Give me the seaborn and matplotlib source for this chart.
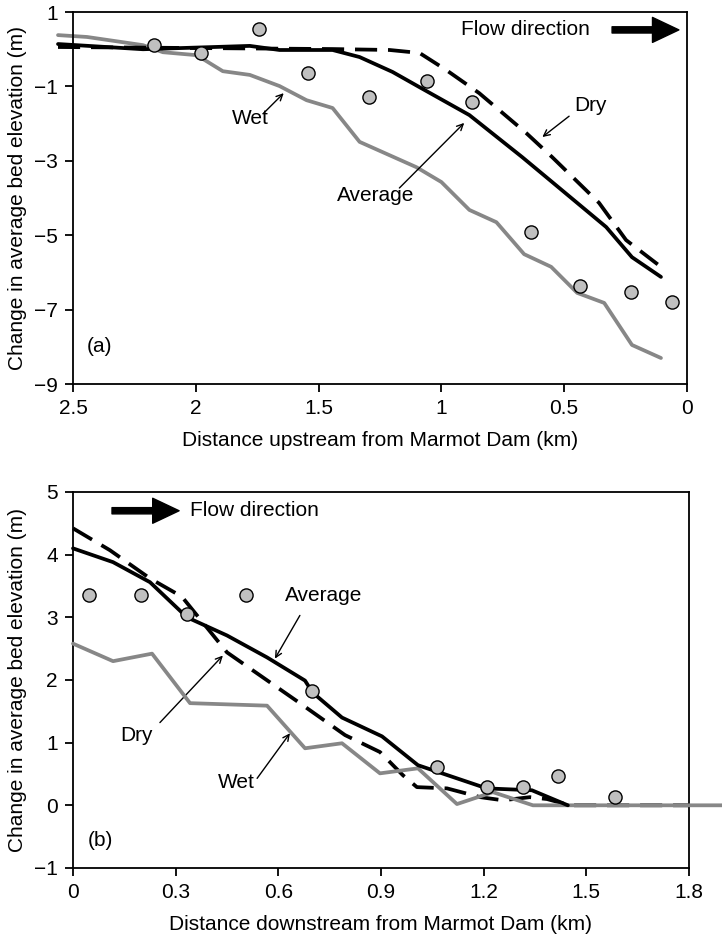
import numpy as np
import pandas as pd
import matplotlib
matplotlib.use("Agg")
import matplotlib.pyplot as plt
import seaborn as sns

# ---- panel (a): upstream of Marmot Dam ----
a_avg_km = [2.561, 2.215, 1.78, 1.659, 1.443, 1.333, 1.199, 1.089, 0.886, 0.671, 0.549, 0.329, 0.224, 0.106]
a_avg_m = [0.14, 0.0, 0.09, -0.02, -0.02, -0.21, -0.61, -1.02, -1.77, -2.90, -3.57, -4.78, -5.59, -6.12]

a_dry_km = [2.561, 1.443, 1.211, 1.089, 0.98, 0.846, 0.655, 0.549, 0.358, 0.248, 0.106]
a_dry_m = [0.06, 0.005, -0.02, -0.10, -0.56, -1.18, -2.25, -2.90, -4.13, -5.13, -5.85]

a_wet_km = [2.561, 2.443, 2.215, 2.134, 1.996, 1.89, 1.78, 1.659, 1.549, 1.443, 1.333, 1.102,
            1.0, 0.886, 0.776, 0.663, 0.553, 0.447, 0.337, 0.224, 0.106]
a_wet_m = [0.38, 0.33, 0.11, -0.08, -0.16, -0.59, -0.69, -0.99, -1.37, -1.58, -2.49, -3.17,
           -3.57, -4.32, -4.65, -5.51, -5.85, -6.55, -6.82, -7.95, -8.30]

a_obs_km = [2.171, 1.98, 1.744, 1.545, 1.293, 1.057, 0.874, 0.634, 0.435, 0.228, 0.061]
a_obs_m = [0.11, -0.10, 0.54, -0.64, -1.28, -0.85, -1.42, -4.91, -6.37, -6.53, -6.80]

# ---- panel (b): downstream of Marmot Dam ----
b_avg_km = [0.0, 0.117, 0.225, 0.333, 0.45, 0.567, 0.678, 0.70, 0.786, 0.903, 1.008, 1.122,
            1.209, 1.341, 1.446]
b_avg_m = [4.10, 3.88, 3.56, 3.00, 2.71, 2.36, 1.99, 1.80, 1.40, 1.10, 0.64, 0.43,
           0.27, 0.24, 0.0]

b_dry_km = [0.0, 0.108, 0.225, 0.318, 0.45, 0.663, 0.795, 0.897, 0.964, 1.005, 1.093, 1.19,
            1.256, 1.335, 1.385, 1.452, 1.8]
b_dry_m = [4.42, 4.07, 3.62, 3.33, 2.44, 1.63, 1.12, 0.85, 0.48, 0.29, 0.27, 0.13,
           0.08, 0.13, 0.10, 0.0, 0.0]

b_wet_km = [0.0, 0.117, 0.231, 0.342, 0.567, 0.678, 0.786, 0.897, 1.008, 1.122, 1.227, 1.344, 1.896]
b_wet_m = [2.58, 2.30, 2.42, 1.63, 1.59, 0.91, 0.99, 0.51, 0.59, 0.02, 0.21, 0.0, 0.0]

b_obs_km = [0.047, 0.199, 0.333, 0.505, 0.698, 1.063, 1.209, 1.315, 1.417, 1.583]
b_obs_m = [3.35, 3.35, 3.05, 3.35, 1.83, 0.61, 0.30, 0.30, 0.46, 0.14]

a_xticks = [2.5, 2, 1.5, 1, 0.5, 0]
a_xticklabels = ["2.5", "2", "1.5", "1", "0.5", "0"]
a_yticks = [1, -1, -3, -5, -7, -9]
b_xticks = [0, 0.3, 0.6, 0.9, 1.2, 1.5, 1.8]
b_xticklabels = ["0", "0.3", "0.6", "0.9", "1.2", "1.5", "1.8"]
b_yticks = [-1, 0, 1, 2, 3, 4, 5]

sns.set_style("ticks")
plt.rcParams["font.family"] = ["Liberation Sans", "DejaVu Sans"]
plt.rcParams["axes.unicode_minus"] = True
plt.rcParams["text.color"] = "black"
plt.rcParams["axes.labelcolor"] = "black"
plt.rcParams["xtick.color"] = "black"
plt.rcParams["ytick.color"] = "black"
plt.rcParams["axes.edgecolor"] = "black"

GRAY = "#878787"
DOT = "#c0c0c0"
LW = 2.7
FS = 15


def draw_panel(ax, avg, dry, wet, obs, wet_z):
    sns.lineplot(x=wet[0], y=wet[1], ax=ax, color=GRAY, lw=LW, estimator=None,
                 sort=False, clip_on=False, zorder=wet_z)
    sns.lineplot(x=dry[0], y=dry[1], ax=ax, color="black", lw=LW, estimator=None,
                 sort=False, clip_on=False, zorder=3, linestyle=(0, (5.9, 2.9)))
    sns.lineplot(x=avg[0], y=avg[1], ax=ax, color="black", lw=LW, estimator=None,
                 sort=False, clip_on=False, zorder=4)
    sns.scatterplot(x=obs[0], y=obs[1], ax=ax, s=90, color=DOT, edgecolor="black",
                    linewidth=1.0, zorder=5, clip_on=False)
    for sp in ax.spines.values():
        sp.set_linewidth(1.3)
        sp.set_visible(True)
    ax.tick_params(direction="out", length=6, width=1.3, labelsize=FS, pad=5)


def label_arrow(ax, text, pos, tail, head):
    ax.text(pos[0], pos[1], text, fontsize=FS, ha="center", va="center")
    ax.annotate("", xy=head, xytext=tail,
                arrowprops=dict(arrowstyle="->,head_length=0.45,head_width=0.22",
                                lw=1.0, color="black", shrinkA=0, shrinkB=0))


def flow_arrow(ax, tail, head):
    ax.annotate("", xy=head, xytext=tail,
                arrowprops=dict(arrowstyle="simple,head_length=1.9,head_width=1.8,tail_width=0.45",
                                mutation_scale=10, color="black", shrinkA=0, shrinkB=0))


fig = plt.figure(figsize=(7.22, 9.41), dpi=100)

# panel (a)
ax1 = fig.add_axes([0.1011, 0.5919, 0.8504, 0.3953])
draw_panel(ax1, (a_avg_km, a_avg_m), (a_dry_km, a_dry_m), (a_wet_km, a_wet_m),
           (a_obs_km, a_obs_m), wet_z=2)
ax1.set_xlim(2.5, 0)
ax1.set_ylim(-9, 1)
ax1.set_xticks(a_xticks)
ax1.set_xticklabels(a_xticklabels)
ax1.set_yticks(a_yticks)
ax1.set_xlabel("Distance upstream from Marmot Dam (km)", fontsize=FS, labelpad=9)
ax1.set_ylabel("Change in average bed elevation (m)", fontsize=FS, labelpad=5)
ax1.text(0.919, 0.52, "Flow direction", fontsize=FS, ha="left", va="center")
flow_arrow(ax1, (0.305, 0.52), (0.033, 0.52))
label_arrow(ax1, "Wet", (1.776, -1.85), (1.724, -1.72), (1.642, -1.18))
label_arrow(ax1, "Average", (1.268, -3.92), (1.171, -3.73), (0.907, -1.98))
label_arrow(ax1, "Dry", (0.394, -1.50), (0.48, -1.80), (0.589, -2.36))
ax1.text(2.443, -8.0, "(a)", fontsize=FS, ha="left", va="center")

# panel (b)
ax2 = fig.add_axes([0.1011, 0.0776, 0.8532, 0.3996])
draw_panel(ax2, (b_avg_km, b_avg_m), (b_dry_km, b_dry_m), (b_wet_km, b_wet_m),
           (b_obs_km, b_obs_m), wet_z=3.5)
ax2.set_xlim(0, 1.8)
ax2.set_ylim(-1, 5)
ax2.set_xticks(b_xticks)
ax2.set_xticklabels(b_xticklabels)
ax2.set_yticks(b_yticks)
ax2.set_xlabel("Distance downstream from Marmot Dam (km)", fontsize=FS, labelpad=9)
ax2.set_ylabel("Change in average bed elevation (m)", fontsize=FS, labelpad=5)
flow_arrow(ax2, (0.114, 4.70), (0.310, 4.70))
ax2.text(0.342, 4.70, "Flow direction", fontsize=FS, ha="left", va="center")
label_arrow(ax2, "Average", (0.733, 3.35), (0.663, 3.03), (0.59, 2.34))
label_arrow(ax2, "Dry", (0.187, 1.12), (0.254, 1.32), (0.438, 2.39))
label_arrow(ax2, "Wet", (0.476, 0.37), (0.538, 0.43), (0.634, 1.15))
ax2.text(0.044, -0.56, "(b)", fontsize=FS, ha="left", va="center")

fig.savefig("out.png", dpi=100)
